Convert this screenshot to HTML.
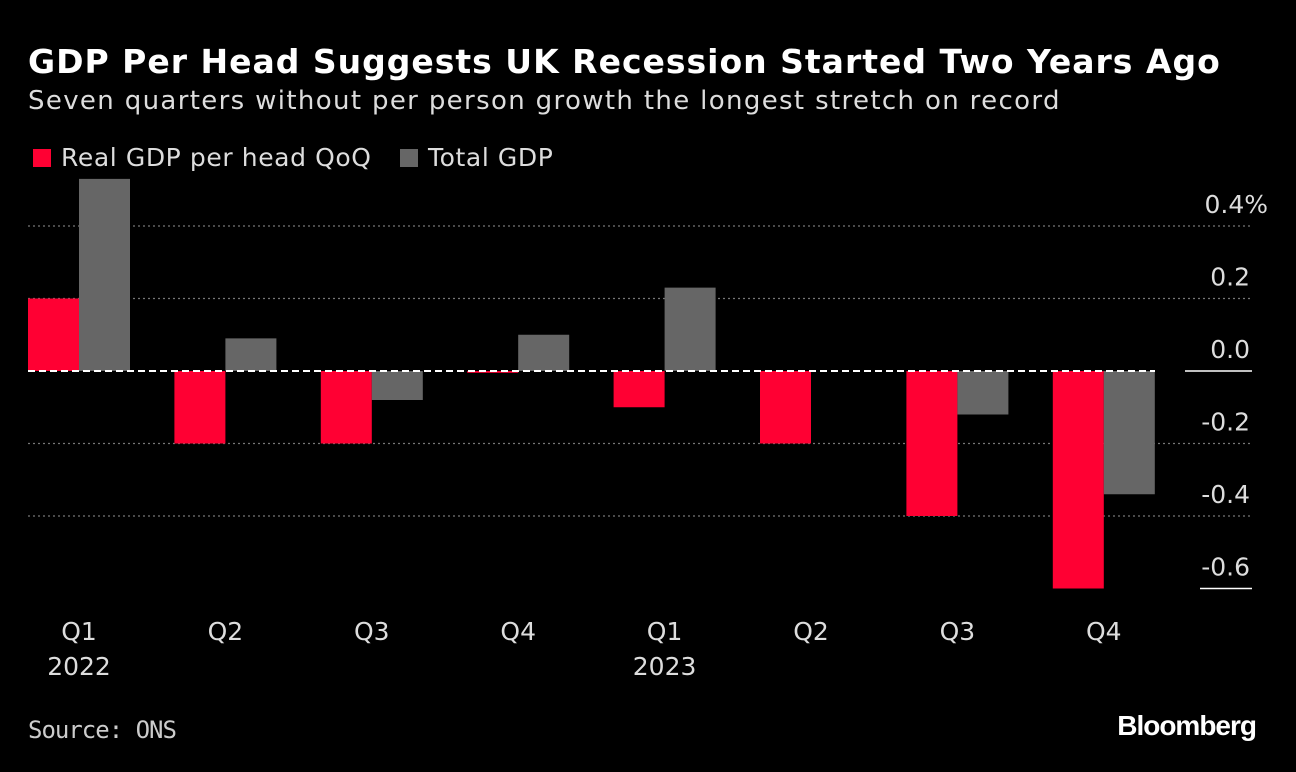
<!DOCTYPE html>
<html><head><meta charset="utf-8"><style>
body{margin:0;background:#000;width:1296px;height:772px;overflow:hidden;font-family:"DejaVu Sans","Liberation Sans",sans-serif;color:#fff}
#title{position:absolute;left:28px;top:42px;font-size:33px;font-weight:bold;letter-spacing:1px;white-space:nowrap}
#sub{position:absolute;left:28px;top:86px;font-size:26px;color:#ddd;letter-spacing:1.35px;white-space:nowrap}
.leg{position:absolute;top:143px;font-size:25px;color:#ddd;white-space:nowrap;letter-spacing:0.6px}
.sw{display:inline-block;width:18px;height:18px;margin-right:10px;vertical-align:-1px}
#src{position:absolute;left:28px;top:716px;font-size:24px;color:#ccc;font-family:"DejaVu Sans Mono","Liberation Mono",monospace;letter-spacing:-1px}
#bb{position:absolute;right:40px;top:710px;font-size:28px;font-weight:bold;letter-spacing:-1px;font-family:"Liberation Sans",sans-serif}
</style></head><body>
<div id="title">GDP Per Head Suggests UK Recession Started Two Years Ago</div>
<div id="sub">Seven quarters without per person growth the longest stretch on record</div>
<div class="leg" style="left:33px"><span class="sw" style="background:#ff0033"></span>Real GDP per head QoQ</div>
<div class="leg" style="left:400px"><span class="sw" style="background:#666"></span>Total GDP</div>
<svg id="chart" width="1296" height="772" style="position:absolute;left:0;top:0"></svg>
<div id="src">Source: ONS</div>
<div id="bb">Bloomberg</div>
<script>
const categories=["Q1","Q2","Q3","Q4","Q1","Q2","Q3","Q4"];
const years=["2022","","","","2023","","",""];
const perHead=[0.2,-0.2,-0.2,-0.005,-0.1,-0.2,-0.4,-0.6];
const totalGdp=[0.53,0.09,-0.08,0.1,0.23,0,-0.12,-0.34];
const ticks=[0.4,0.2,0,-0.2,-0.4,-0.6];
const tickLabels=["0.4%","0.2","0.0","-0.2","-0.4","-0.6"];
const svg=document.getElementById('chart');
const NS="http://www.w3.org/2000/svg";
const FF='DejaVu Sans, Liberation Sans, sans-serif';
const y=v=>371-v*362.5;
const xc=i=>79+i*146.4;
function mk(t,a){const e=document.createElementNS(NS,t);for(const k in a)e.setAttribute(k,a[k]);svg.appendChild(e);return e;}
ticks.forEach((t,i)=>{
  if(t!==0&&t!==-0.6){const g=mk('line',{x1:28,x2:1250,y1:y(t),y2:y(t),stroke:'#777','stroke-width':1.3,'stroke-dasharray':'2,3'});
  
  }
  const tx=mk('text',{x:i===0?1268:1250,y:y(t)-13,'text-anchor':'end',fill:'#ddd','font-size':25,'font-family':FF});
  tx.textContent=tickLabels[i];
  
  
});
const bl=mk('line',{x1:1200,x2:1252,y1:y(-0.6),y2:y(-0.6),stroke:'#fff','stroke-width':1.5});


categories.forEach((c,i)=>{
  const r=mk('rect',{x:xc(i)-51,width:51,y:Math.min(y(0),y(perHead[i])),height:Math.max(1,Math.abs(y(perHead[i])-y(0))),fill:'#ff0033'});
  
  
  const g=mk('rect',{x:xc(i),width:51,y:Math.min(y(0),y(totalGdp[i])),height:Math.abs(y(totalGdp[i])-y(0)),fill:'#666'});
  
  
  const t=mk('text',{x:xc(i),y:640,'text-anchor':'middle',fill:'#ddd','font-size':25,'font-family':FF});
  t.textContent=c;
  
  
  if(years[i]){const yt=mk('text',{x:xc(i),y:675,'text-anchor':'middle',fill:'#ddd','font-size':25,'font-family':FF});
  yt.textContent=years[i];
  
  }
});
const z=mk('line',{x1:28,x2:1155,y1:y(0),y2:y(0),stroke:'#fff','stroke-width':2,'stroke-dasharray':'7,4'});


const z2=mk('line',{x1:1185,x2:1252,y1:y(0),y2:y(0),stroke:'#fff','stroke-width':1.5});


</script>
</body></html>
